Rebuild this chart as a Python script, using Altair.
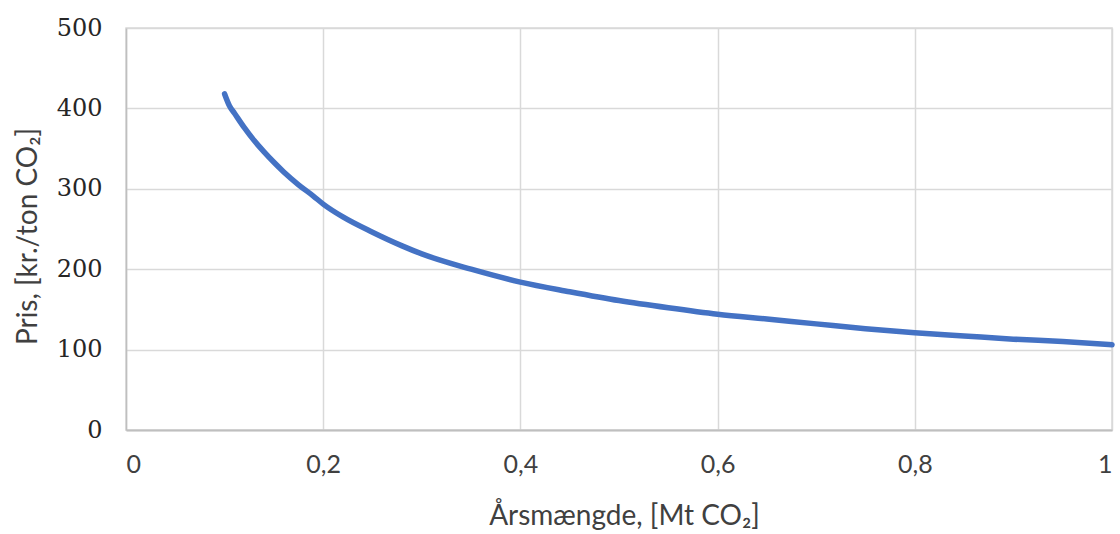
import altair as alt
import pandas as pd

# Annual quantity (Mt CO2) and price (kr./ton CO2) along the curve
quantity = [0.100, 0.105, 0.11, 0.12, 0.13, 0.14, 0.15, 0.16, 0.175, 0.19, 0.20,
            0.22, 0.25, 0.28, 0.30, 0.35, 0.40, 0.45, 0.50, 0.55, 0.60,
            0.65, 0.70, 0.75, 0.80, 0.85, 0.90, 0.95, 1.00]
price = [418, 403, 394, 376, 360, 346, 333, 321, 305, 291, 281,
         265, 246, 229, 219, 200, 184, 172, 161, 152, 144,
         138, 132, 126, 121, 117, 113, 110, 106]

df = pd.DataFrame({"q": quantity, "p": price})

label_font = "Lato"
x_label_expr = ("datum.value == 0 ? '0' : datum.value == 1 ? '1' : "
                "replace(format(datum.value, '.1f'), '.', ',')")

chart = (
    alt.Chart(df)
    .mark_line(color="#4472C4", strokeWidth=5.5, strokeCap="round", interpolate="monotone")
    .encode(
        x=alt.X(
            "q:Q",
            scale=alt.Scale(domain=[0, 1], nice=False),
            axis=alt.Axis(
                values=[0, 0.2, 0.4, 0.6, 0.8, 1.0],
                labelExpr=x_label_expr,
                title="Årsmængde, [Mt CO₂]",
                labelFont=label_font,
                labelFontSize=25,
                labelColor="#404040",
                labelPadding=22,
                titleFont=label_font,
                titleFontSize=28,
                titleFontWeight="normal",
                titleColor="#404040",
                titleBaseline="middle",
                titleX=498,
                titleY=86,
                ticks=False,
                domainColor="#bfbfbf",
                domainWidth=2,
                gridColor="#d9d9d9",
                gridWidth=1.5,
            ),
        ),
        y=alt.Y(
            "p:Q",
            scale=alt.Scale(domain=[0, 500], nice=False),
            axis=alt.Axis(
                values=[0, 100, 200, 300, 400, 500],
                title="Pris, [kr./ton CO₂]",
                labelFont="DejaVu Serif",
                labelFontSize=24,
                labelColor="#262626",
                labelPadding=24,
                titleFont=label_font,
                titleFontSize=28,
                titleFontWeight="normal",
                titleColor="#404040",
                titleBaseline="middle",
                titleX=-98,
                titleY=208,
                ticks=False,
                domainColor="#bfbfbf",
                domainWidth=1.5,
                gridColor="#d9d9d9",
                gridWidth=1.5,
            ),
        ),
    )
    .properties(
        width=986,
        height=402,
        padding={"left": 126, "top": 28, "right": 8, "bottom": 104},
        autosize=alt.AutoSizeParams(type="none"),
        background="white",
    )
    .configure_view(stroke="#d9d9d9", strokeWidth=1.5)
)

chart.save("out.html", embed_options={"renderer": "svg", "actions": False})
